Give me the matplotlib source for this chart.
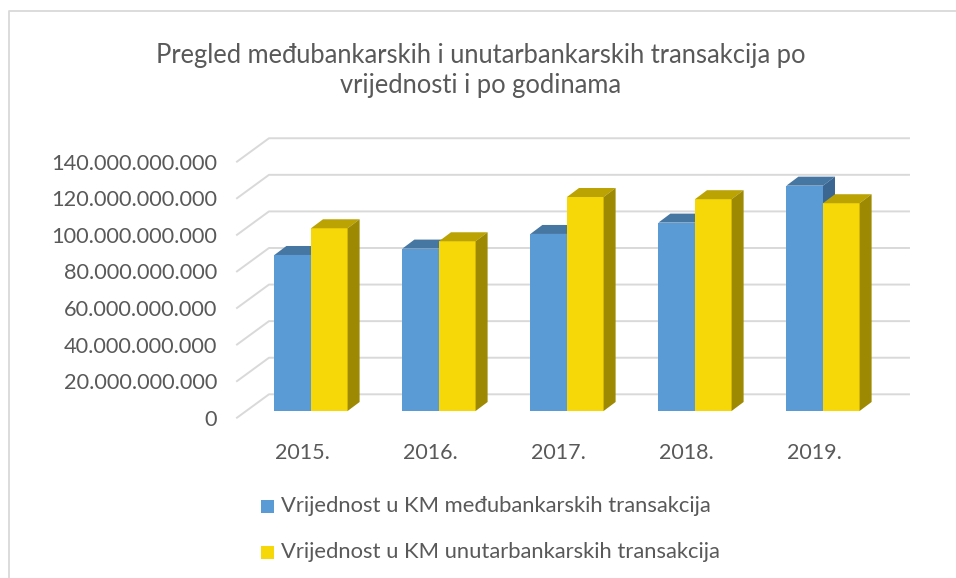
import matplotlib.pyplot as plt
from matplotlib.lines import Line2D
from matplotlib.patches import Polygon, Rectangle

plt.rcParams['font.family'] = ['Lato', 'DejaVu Sans']

# podaci (u milijardama KM, procjena sa slike)
godine = ['2015.', '2016.', '2017.', '2018.', '2019.']
medjubankarske = [85.3, 88.8, 96.8, 103.0, 123.2]
unutarbankarske = [99.9, 92.8, 117.0, 115.8, 113.6]
y_vrijednosti = [0, 20, 40, 60, 80, 100, 120, 140]
y_oznake = ['0', '20.000.000.000', '40.000.000.000', '60.000.000.000', '80.000.000.000',
            '100.000.000.000', '120.000.000.000', '140.000.000.000']
naslov = 'Pregled međubankarskih i unutarbankarskih transakcija po\nvrijednosti i po godinama'
legenda = ['Vrijednost u KM međubankarskih transakcija', 'Vrijednost u KM unutarbankarskih transakcija']

W, H = 956, 578
plava, plava_gore, plava_bok = '#5B9BD5', '#4676A2', '#3A6691'
zuta, zuta_gore, zuta_bok = '#F6D809', '#BAA302', '#9E8A02'
siva = '#595959'
mreza = '#D9D9D9'

fig = plt.figure(figsize=(W / 100, H / 100), dpi=100, facecolor='white')

# okvir grafikona: samo lijeva i gornja ivica se vide
fig.add_artist(Line2D([8.5 / W, 8.5 / W, 1], [0, 1 - 10.5 / H, 1 - 10.5 / H], color=mreza, lw=1.3))

# osa: x=237..909 px, y=417.7 px je nula, 1.829 px po milijardi
px_y = 1.829
px_x = 128.0
lijevo, desno, dole, gore = 237, 909, 417.7, 130
ax = fig.add_axes([lijevo / W, 1 - dole / H, (desno - lijevo) / W, (dole - gore) / H])
ax.set_xlim((lijevo - 311) / px_x, (desno - 311) / px_x)
ax.set_ylim(0, (dole - gore) / px_y)
ax.patch.set_alpha(0)
for s in ax.spines.values():
    s.set_visible(False)

# pomaci 3D efekta
baza = 6.7 / px_y
zid_x, zid_y = 32 / px_x, 23.4 / px_y
dub_x, dub_y = 12 / px_x, 9 / px_y
sirina = 36.6 / px_x

# linije mreze: dijagonala pa zadnji zid
x0 = ax.get_xlim()[0]
x1 = ax.get_xlim()[1]
for v in y_vrijednosti:
    ax.plot([x0, x0 + zid_x, x1], [v, v + zid_y, v + zid_y], color=mreza, lw=1.4, zorder=1, clip_on=False)


def stub(x, v, boja, gore_b, bok_b, z):
    ax.bar(x, v, sirina, bottom=baza, align='edge', color=boja, zorder=z)
    vrh = baza + v
    ax.add_patch(Polygon([(x, vrh), (x + dub_x, vrh + dub_y), (x + sirina + dub_x, vrh + dub_y), (x + sirina, vrh)],
                         facecolor=gore_b, edgecolor='none', zorder=z))
    ax.add_patch(Polygon([(x + sirina, baza), (x + sirina + dub_x, baza + dub_y), (x + sirina + dub_x, vrh + dub_y),
                          (x + sirina, vrh)], facecolor=bok_b, edgecolor='none', zorder=z))


for i in range(len(godine)):
    stub(i - sirina, medjubankarske[i], plava, plava_gore, plava_bok, 2)
    stub(i, unutarbankarske[i], zuta, zuta_gore, zuta_bok, 3)

ax.set_yticks(y_vrijednosti)
ax.set_yticklabels(y_oznake)
ax.set_xticks([i - 9 / px_x for i in range(len(godine))])
ax.set_xticklabels(godine)
ax.tick_params(axis='y', length=0, pad=14.4, labelsize=15.7, labelcolor=siva)
ax.tick_params(axis='x', length=0, pad=18, labelsize=15.5, labelcolor=siva)

fig.text(480.5 / W, 1 - 70.5 / H, naslov, ha='center', va='center', fontsize=18.4, color=siva, linespacing=1.25)

# legenda
for y, boja, tekst in [(506.5, plava, legenda[0]), (552.5, zuta, legenda[1])]:
    fig.add_artist(Rectangle((261 / W, 1 - (y + 6.5) / H), 13 / W, 13 / H, transform=fig.transFigure,
                             facecolor=boja, edgecolor='none'))
    fig.text(281 / W, 1 - y / H, tekst, ha='left', va='center', fontsize=15.85, color=siva)

fig.savefig('out.png', dpi=100)
